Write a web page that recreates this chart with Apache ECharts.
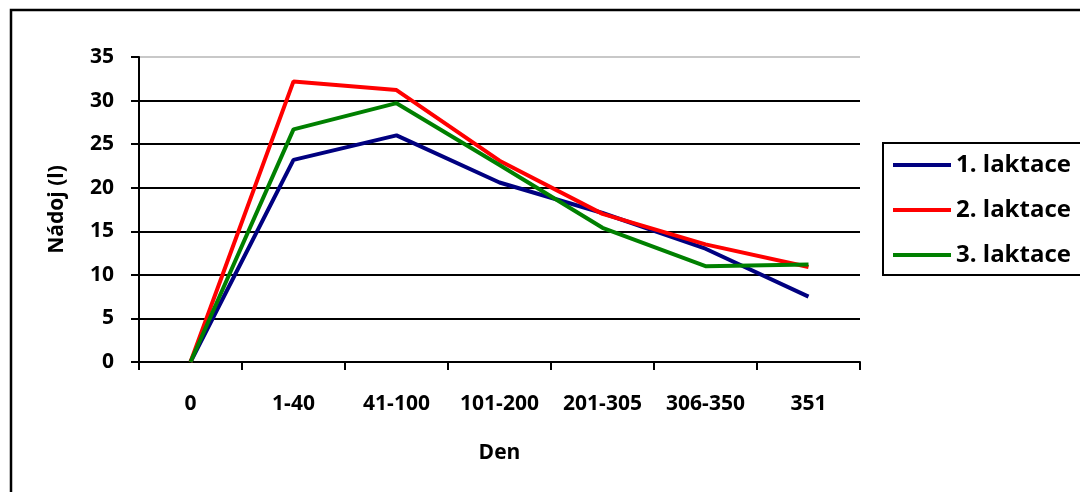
<!DOCTYPE html>
<html>
<head>
<meta charset="utf-8">
<script src="https://cdn.jsdelivr.net/npm/echarts@6/dist/echarts.min.js"></script>
<style>
  html, body { margin: 0; padding: 0; background: #fff; }
  #chart { width: 1080px; height: 492px; }
</style>
</head>
<body>
<div id="chart"></div>
<script>
// Milk yield (l) by lactation day interval, three lactations
const days = ['0', '1-40', '41-100', '101-200', '201-305', '306-350', '351'];
const lactation1 = [0, 23.2, 26.0, 20.6, 17.1, 13.0, 7.5];
const lactation2 = [0, 32.2, 31.2, 23.1, 17.0, 13.5, 10.9];
const lactation3 = [0, 26.7, 29.7, 22.6, 15.4, 11.0, 11.2];
const seriesNames = ['1. laktace', '2. laktace', '3. laktace'];
const yTicks = { min: 0, max: 35, step: 5 };

const FONT = 'Open Sans';
const lineColors = ['#000080', '#ff0000', '#008000'];

// grid lines: black, the top one light grey
const gridColors = [];
for (let v = yTicks.min; v <= yTicks.max; v += yTicks.step) {
  gridColors.push(v === yTicks.max ? '#c8c8c8' : '#000000');
}

const chart = echarts.init(document.getElementById('chart'), null, { renderer: 'canvas' });

const option = {
  backgroundColor: '#ffffff',
  animation: false,
  textStyle: { fontFamily: FONT, fontWeight: 'bold', color: '#000' },
  graphic: [{
    type: 'rect',
    shape: { x: 11, y: 10, width: 2000, height: 2000 },
    style: { fill: null, stroke: '#000', lineWidth: 2.5 },
    z: 100
  }],
  grid: { left: 139, right: 220, top: 57, bottom: 130, containLabel: false },
  legend: {
    orient: 'vertical',
    left: 883,
    top: 143,
    padding: [10, 12, 8, 10],
    itemGap: 21,
    itemWidth: 58,
    itemHeight: 4,
    icon: 'rect',
    borderColor: '#000',
    borderWidth: 2,
    textStyle: { fontFamily: FONT, fontWeight: 'bold', fontSize: 24, color: '#000', padding: [0, 0, 0, 0] },
    data: seriesNames
  },
  xAxis: {
    type: 'category',
    data: days,
    boundaryGap: true,
    name: 'Den',
    nameLocation: 'middle',
    nameGap: 81,
    nameTextStyle: { fontFamily: FONT, fontWeight: 'bold', fontSize: 21, color: '#000' },
    axisLine: { show: true, lineStyle: { color: '#000', width: 2 } },
    axisTick: { show: true, alignWithLabel: false, length: 8, lineStyle: { color: '#000', width: 2 } },
    axisLabel: { fontFamily: FONT, fontWeight: 'bold', fontSize: 21, color: '#000', margin: 32, interval: 0 },
    splitLine: { show: false }
  },
  yAxis: {
    type: 'value',
    min: yTicks.min,
    max: yTicks.max,
    interval: yTicks.step,
    name: 'Nádoj (l)',
    nameLocation: 'middle',
    nameGap: 71,
    nameRotate: 90,
    nameTextStyle: { fontFamily: FONT, fontWeight: 'bold', fontSize: 21, color: '#000' },
    axisLine: { show: true, lineStyle: { color: '#000', width: 2 } },
    axisTick: { show: true, length: 8, lineStyle: { color: '#000', width: 2 } },
    axisLabel: { fontFamily: FONT, fontWeight: 'bold', fontSize: 21, color: '#000', margin: 25 },
    splitLine: { show: true, lineStyle: { color: gridColors, width: 2 } }
  },
  series: [lactation1, lactation2, lactation3].map((vals, i) => ({
    name: seriesNames[i],
    type: 'line',
    data: vals,
    symbol: 'none',
    showSymbol: false,
    lineStyle: { color: lineColors[i], width: 4 },
    itemStyle: { color: lineColors[i] },
    emphasis: { disabled: true }
  }))
};

chart.setOption(option);
</script>
</body>
</html>
